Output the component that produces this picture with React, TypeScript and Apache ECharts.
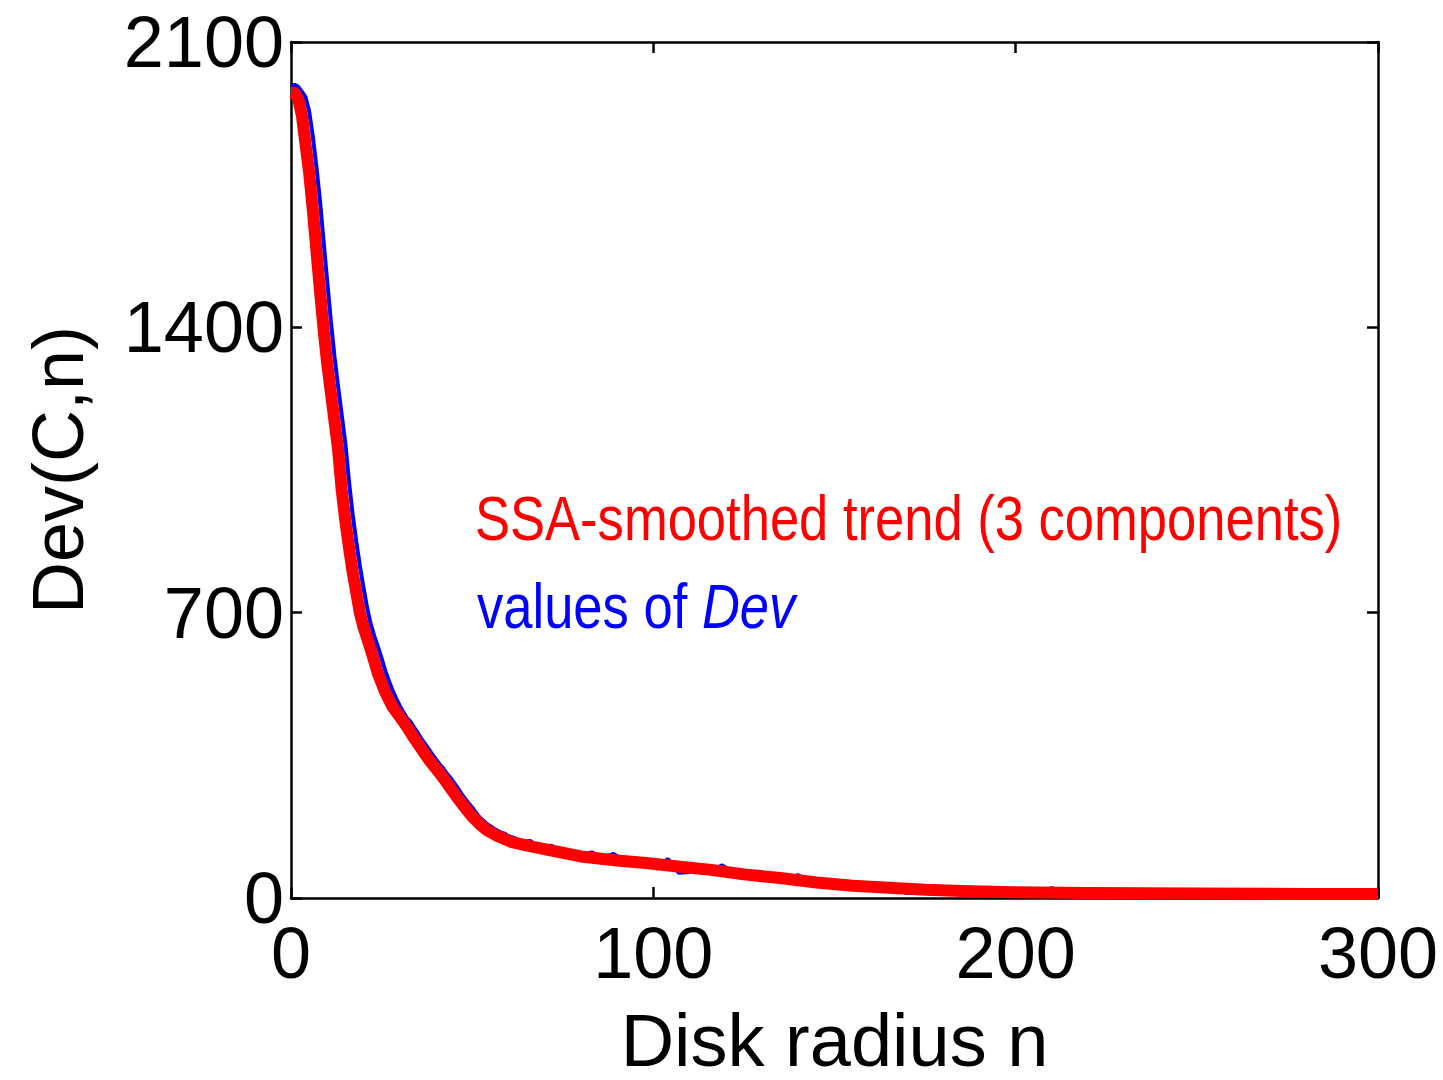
import React, { useEffect, useRef } from "react";
import * as echarts from "echarts";

// ---- data ----
const xTickValues = [0, 100, 200, 300];
const yTickValues = [0, 700, 1400, 2100];

const xAxisTitle = "Disk radius n";
const yAxisTitle = "Dev(C,n)";
const trendLabel = "SSA-smoothed trend (3 components)";
const devLabelPlain = "values of ";
const devLabelItalic = "Dev";

// SSA-smoothed trend (red)
const trendN = [0, 1, 2, 3, 4, 5, 6, 7, 8, 9, 10, 11, 12, 13, 14, 15, 16, 17, 18, 19, 20, 22, 24, 26, 28, 30, 32, 34, 36, 38, 40, 42, 44, 46, 48, 50, 52, 54, 57, 61, 66, 71, 80, 90, 98, 108, 116, 125, 135, 145, 155, 165, 175, 185, 200, 220, 250, 280, 300];
const trendV = [1975, 1975, 1960, 1920, 1850, 1780, 1690, 1590, 1490, 1395, 1310, 1240, 1170, 1100, 1000, 925, 860, 800, 750, 700, 665, 610, 550, 505, 470, 445, 420, 392, 366, 340, 318, 295, 270, 245, 222, 200, 182, 167, 152, 137, 127, 118, 102, 92, 86, 76, 69, 58, 49, 38, 30, 25, 20, 17, 14, 12, 11, 10, 10];

// raw values of Dev (blue)
const devN = [0, 1, 2, 3, 4, 5, 6, 7, 8, 9, 10, 11, 12, 13, 14, 15, 16, 17, 18, 19, 20, 21, 22, 23, 24, 25, 26, 27, 28, 29, 30, 31, 32, 33, 34, 35, 36, 37, 38, 39, 40, 41, 42, 43, 44, 45, 46, 47, 48, 49, 50, 51, 52, 53, 54, 55, 56, 57, 58, 59, 60, 62, 64, 66, 68, 70, 72, 74, 76, 78, 80, 83, 86, 89, 92, 95, 98, 101, 104, 107, 110, 113, 116, 119, 122, 125, 128, 131, 134, 137, 140, 143, 146, 149, 152, 155, 158, 161, 164, 167, 170, 174, 178, 182, 186, 190, 195, 200, 205, 210, 215, 220, 225, 230, 240, 250, 260, 270, 280, 285, 290, 295, 300];
const devV = [1990, 1995, 1990, 1978, 1965, 1930, 1870, 1795, 1710, 1610, 1512, 1415, 1328, 1255, 1185, 1115, 1022, 942, 875, 815, 762, 712, 672, 642, 616, 588, 558, 533, 510, 490, 472, 456, 441, 432, 418, 405, 390, 378, 365, 352, 340, 328, 318, 305, 295, 282, 270, 256, 244, 232, 222, 210, 198, 190, 182, 176, 170, 165, 160, 158, 152, 146, 138, 140, 128, 125, 128, 115, 118, 110, 106, 112, 98, 108, 92, 95, 90, 72, 96, 62, 64, 76, 68, 80, 64, 62, 46, 54, 52, 48, 56, 42, 30, 36, 34, 32, 30, 36, 28, 24, 12, 22, 28, 10, 22, 18, 20, 16, 14, 24, 6, 14, 12, 12, 10, 10, 10, 12, 10, 14, 12, 14, 12];

const FONT = "'Liberation Sans', Arial, sans-serif";

export default function App() {
  const ref = useRef<HTMLDivElement>(null);

  useEffect(() => {
    if (!ref.current) return;
    const chart = echarts.init(ref.current, undefined, { renderer: "svg" });

    const axisLine = { show: true, onZero: false, lineStyle: { color: "#000", width: 2.5 } };
    const axisTick = { show: true, inside: true, length: 11, lineStyle: { color: "#000", width: 2.5 } };
    const labelStyle = { color: "#000", fontSize: 72, fontFamily: FONT, formatter: (v: number) => String(v) };

    const option: any = {
      animation: false,
      backgroundColor: "#ffffff",
      grid: { left: 291, right: 65, top: 42, bottom: 182, containLabel: false, outerBoundsMode: "none" },
      xAxis: [
        {
          type: "value",
          position: "bottom",
          min: xTickValues[0],
          max: xTickValues[xTickValues.length - 1],
          interval: xTickValues[1] - xTickValues[0],
          axisLine,
          axisTick,
          splitLine: { show: false },
          axisLabel: { ...labelStyle, margin: 19, showMinLabel: true, showMaxLabel: true, hideOverlap: false },
          name: xAxisTitle,
          nameLocation: "middle",
          nameGap: 105,
          nameMoveOverlap: false,
          nameTextStyle: { color: "#000", fontSize: 74, fontFamily: FONT },
        },
        {
          type: "value",
          position: "top",
          min: xTickValues[0],
          max: xTickValues[xTickValues.length - 1],
          interval: xTickValues[1] - xTickValues[0],
          axisLine,
          axisTick,
          splitLine: { show: false },
          axisLabel: { show: false },
        },
      ],
      yAxis: [
        {
          type: "value",
          position: "left",
          min: yTickValues[0],
          max: yTickValues[yTickValues.length - 1],
          interval: yTickValues[1] - yTickValues[0],
          axisLine,
          axisTick,
          splitLine: { show: false },
          axisLabel: { ...labelStyle, margin: 7, showMinLabel: true, showMaxLabel: true, hideOverlap: false },
          name: yAxisTitle,
          nameLocation: "middle",
          nameGap: 197,
          nameMoveOverlap: false,
          nameTextStyle: { color: "#000", fontSize: 72, fontFamily: FONT },
        },
        {
          type: "value",
          position: "right",
          min: yTickValues[0],
          max: yTickValues[yTickValues.length - 1],
          interval: yTickValues[1] - yTickValues[0],
          axisLine,
          axisTick,
          splitLine: { show: false },
          axisLabel: { show: false },
        },
      ],
      series: [
        {
          name: "values of Dev",
          type: "line",
          xAxisIndex: 0,
          yAxisIndex: 0,
          data: devN.map((n, i) => [n, devV[i]]),
          showSymbol: false,
          symbol: "none",
          lineStyle: { color: "#0000ff", width: 4 },
          z: 2,
        },
        {
          name: "SSA-smoothed trend",
          type: "line",
          xAxisIndex: 0,
          yAxisIndex: 0,
          data: trendN.map((n, i) => [n, trendV[i]]),
          showSymbol: false,
          symbol: "none",
          lineStyle: { color: "#ff0000", width: 12, cap: "butt", join: "round" },
          z: 3,
        },
      ],
      graphic: [
        {
          type: "text",
          x: 475,
          y: 518,
          scaleX: 0.834,
          style: {
            text: trendLabel,
            fill: "#ff0000",
            fontSize: 63,
            fontFamily: FONT,
            align: "left",
            verticalAlign: "middle",
          },
          z: 10,
        },
        {
          type: "text",
          x: 477,
          y: 606,
          scaleX: 0.834,
          style: {
            text: devLabelPlain + "{i|" + devLabelItalic + "}",
            fill: "#0000ff",
            fontSize: 63,
            fontFamily: FONT,
            align: "left",
            verticalAlign: "middle",
            rich: {
              i: { fontStyle: "italic", fontSize: 63, fontFamily: FONT, fill: "#0000ff" },
            },
          },
          z: 10,
        },
      ],
    };

    chart.setOption(option);
    return () => chart.dispose();
  }, []);

  return (
    <div
      ref={ref}
      style={{ position: "absolute", left: 0, top: 0, width: 1443, height: 1080, background: "#fff" }}
    />
  );
}
